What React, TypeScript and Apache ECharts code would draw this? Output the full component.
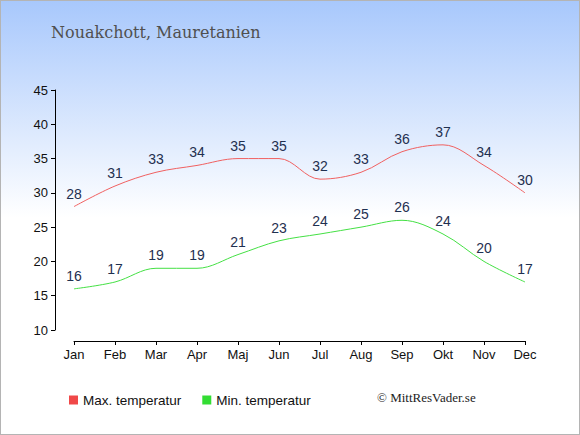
import React, { useEffect, useRef } from "react";
import * as echarts from "echarts";

const months = ["Jan", "Feb", "Mar", "Apr", "Maj", "Jun", "Jul", "Aug", "Sep", "Okt", "Nov", "Dec"];
const maxTemp = [28, 31, 33, 34, 35, 35, 32, 33, 36, 37, 34, 30];
const minTemp = [16, 17, 19, 19, 21, 23, 24, 25, 26, 24, 20, 17];
const titleText = "Nouakchott, Mauretanien";
const maxName = "Max. temperatur";
const minName = "Min. temperatur";
const credit = "© MittResVader.se";

export default function App() {
  const ref = useRef<HTMLDivElement>(null);
  useEffect(() => {
    document.body.style.margin = "0";
    const chart = echarts.init(ref.current!, null, { renderer: "svg" });
    const labelStyle = {
      show: true,
      position: "top" as const,
      distance: 5,
      color: "#1f3050",
      fontSize: 14,
      fontFamily: "Liberation Sans, Arial, sans-serif",
    };
    chart.setOption({
      animation: false,
      backgroundColor: {
        type: "linear",
        x: 0,
        y: 0,
        x2: 0,
        y2: 1,
        colorStops: [
          { offset: 0, color: "#a8c8fc" },
          { offset: 0.5, color: "#ffffff" },
          { offset: 1, color: "#ffffff" },
        ],
      },
      title: {
        text: titleText,
        left: 45,
        top: 18,
        textStyle: {
          fontFamily: "DejaVu Serif, serif",
          fontWeight: "normal",
          fontSize: 16,
          color: "#505050",
        },
      },
      legend: {
        left: 63,
        top: 387,
        itemWidth: 9,
        itemHeight: 9,
        itemGap: 21,
        icon: "rect",
        textStyle: {
          fontFamily: "Liberation Sans, Arial, sans-serif",
          fontSize: 13.5,
          color: "#111",
        },
        data: [
          { name: maxName, itemStyle: { color: "#f04848", opacity: 1 } },
          { name: minName, itemStyle: { color: "#33dd33", opacity: 1 } },
        ],
      },
      graphic: [
        {
          type: "text",
          left: 376,
          top: 390,
          style: {
            text: credit,
            fontFamily: "Liberation Serif, serif",
            fontSize: 13,
            fill: "#222",
          },
        },
      ],
      grid: { left: 73, right: 54, top: 89, bottom: 104 },
      xAxis: {
        type: "category",
        data: months,
        boundaryGap: false,
        offset: 11,
        axisLine: { lineStyle: { color: "#000", width: 1 } },
        axisTick: { length: 4, lineStyle: { color: "#000" } },
        axisLabel: {
          color: "#111",
          fontSize: 13,
          fontFamily: "Liberation Sans, Arial, sans-serif",
          margin: 7,
        },
      },
      yAxis: {
        type: "value",
        min: 10,
        max: 45,
        interval: 5,
        offset: 19,
        axisLine: { show: true, lineStyle: { color: "#000", width: 1 } },
        axisTick: { show: true, length: 4, lineStyle: { color: "#000" } },
        splitLine: { show: false },
        axisLabel: {
          color: "#111",
          fontSize: 13,
          fontFamily: "Liberation Sans, Arial, sans-serif",
          margin: 7,
        },
      },
      series: [
        {
          name: maxName,
          type: "line",
          data: maxTemp,
          smooth: 0.35,
          symbol: "circle",
          symbolSize: 2,
          itemStyle: { color: "rgba(0,0,0,0)" },
          lineStyle: { color: "#f06060", width: 1 },
          label: labelStyle,
        },
        {
          name: minName,
          type: "line",
          data: minTemp,
          smooth: 0.35,
          symbol: "circle",
          symbolSize: 2,
          itemStyle: { color: "rgba(0,0,0,0)" },
          lineStyle: { color: "#44e044", width: 1 },
          label: labelStyle,
        },
      ],
    });
    return () => chart.dispose();
  }, []);
  return (
    <div
      ref={ref}
      style={{ width: 580, height: 435, boxSizing: "border-box", border: "1px solid #b4b4b4" }}
    />
  );
}
